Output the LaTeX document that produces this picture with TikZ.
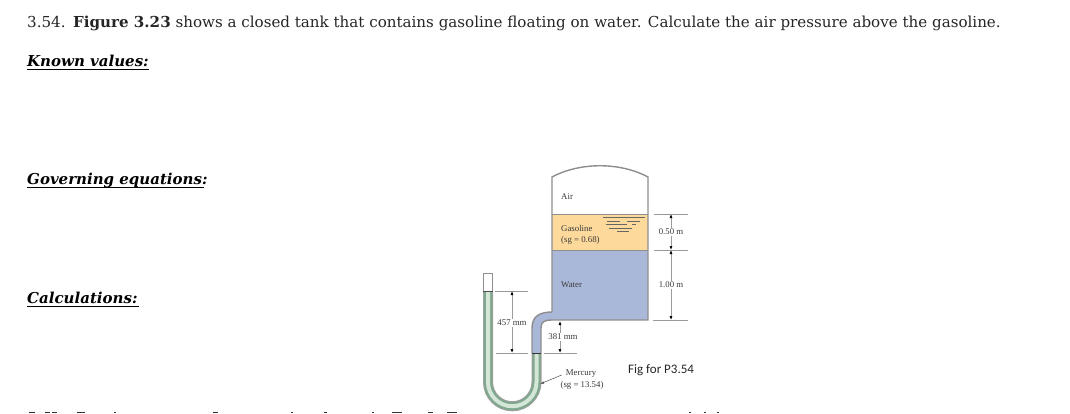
\documentclass[tikz,border=0pt]{standalone}
\usepackage{fontspec}
\setmainfont{DejaVu Serif}
\newfontfamily\figfont{Liberation Serif}
\newfontfamily\capfont{Carlito}
\usetikzlibrary{arrows.meta}
\definecolor{gasc}{HTML}{FDD99B}
\definecolor{watc}{HTML}{A9B8D8}
\definecolor{hgc}{HTML}{D3E6D8}
\definecolor{hge}{HTML}{7FA88C}
\definecolor{wallc}{HTML}{8E8E8E}
\definecolor{dimc}{HTML}{9A9A9A}
\definecolor{labc}{HTML}{3A3A3A}
\tikzset{
 x=1pt,y=-1pt,
 body/.style={anchor=base west,inner sep=0pt,font=\fontsize{15.1}{18}\selectfont,text=black!85},
 head/.style={anchor=base west,inner sep=0pt,font=\fontsize{15}{18}\selectfont\bfseries\itshape,text=black},
 ulrule/.style={line width=1pt,black},
 figlab/.style={inner sep=0pt,font=\figfont\fontsize{8.8}{10}\selectfont,text=labc},
 dimlab/.style={figlab,fill=white,inner sep=1pt},
 extline/.style={draw=dimc,line width=0.7pt},
 dimline/.style={draw=dimc,line width=0.7pt,{Latex[length=4pt,width=3pt,black]}-{Latex[length=4pt,width=3pt,black]}},
 wall/.style={draw=wallc,line width=1.4pt},
 surf/.style={draw=black!60,line width=0.5pt},
 glyphtop/.style={draw=black!80,line width=1.6pt},
}
\begin{document}
\begin{tikzpicture}
\useasboundingbox (0,0) rectangle (1070,413);
\fill[white] (0,0) rectangle (1070,413);
\clip (0,0) rectangle (1070,413);
% text
\node[body] (prob) at (27,27) {3.54.\hspace{0.5em}\textbf{Figure 3.23} shows a closed tank that contains gasoline floating on water. Calculate the air pressure above the gasoline.};
\node[head] (known) at (27,66) {Known values:};
\node[head] (gov) at (27,184.5) {Governing equations:};
\node[head] (calc) at (27,303.5) {Calculations:};
\draw[ulrule] (known.base west)++(0,3) -- ++(122,0);
\draw[ulrule] (gov.base west)++(0,3) -- ++(177,0);
\draw[ulrule] (calc.base west)++(0,3) -- ++(112,0);
% tops of the cut-off line at the lower edge
\draw[glyphtop] (29,412.6) -- (35,412.6) (45,412.6) -- (50,412.6) (52,412.6) -- (57,412.6) (77,412.6) -- (85,412.6)
 (114,412.6) -- (116,412.6) (213,412.6) -- (218,412.6) (291,412.6) -- (293,412.6) (324,412.6) -- (327,412.6)
 (372,412.6) -- (374,412.6) (392,412.6) -- (402,412.6) (428,412.6) -- (433,412.6) (447,412.6) -- (457,412.6)
 (689,412.6) -- (691,412.6) (704,412.6) -- (706,412.6) (717,412.6) -- (719,412.6);
% fluids
\fill[gasc] (552,214) rectangle (648,250);
\fill[watc] (552,250) rectangle (648,320);
\fill[watc] (552,312) .. controls (540,312) and (532,316) .. (532,328) -- (532,353) -- (541,353) -- (541,328) .. controls (541,322) and (544,320) .. (552,320) -- cycle;
% U tube
\draw[line width=10pt,draw=wallc!85] (488,291) -- (488,382) arc[start angle=180,end angle=0,radius=24.25] -- (536.5,353);
\draw[line width=8pt,draw=hge] (488,291) -- (488,382) arc[start angle=180,end angle=0,radius=24.25] -- (536.5,353);
\draw[line width=4pt,draw=hgc] (488,291) -- (488,382) arc[start angle=180,end angle=0,radius=24.25] -- (536.5,353);
% tube top
\fill[white] (484,274) rectangle (492,290.5);
\draw[draw=wallc,line width=1pt] (483.5,291) -- (483.5,273) -- (492.5,273) -- (492.5,291);
\draw[draw=black!70,line width=1pt] (483,291) -- (493,291);
\draw[draw=black!80,line width=1pt] (532,353) -- (541,353);
% tank walls
\draw[wall] (552,312) -- (552,177) .. controls (580,162) and (620,162) .. (648,177) -- (648,320) -- (552,320) .. controls (544,320) and (541,322) .. (541,328) -- (541,353);
\draw[wall] (552,312) .. controls (540,312) and (532,316) .. (532,328) -- (532,353);
\draw[draw=wallc,line width=0.8pt] (552,214) -- (648,214);
\draw[draw=wallc,line width=0.5pt] (552,250) -- (648,250);
% surface marks
\draw[surf] (603,217.3) -- (645,217.3);
\draw[surf] (607,221) -- (620,221) (627,221) -- (640,221);
\draw[surf] (606,224.5) -- (627,224.5) (632,224.5) -- (636,224.5);
\draw[surf] (609,228) -- (632,228);
\draw[surf] (617,231) -- (629,231);
% dimension lines
\coordinate (d1t) at (671,214); \coordinate (d1b) at (671,250); \coordinate (d2b) at (671,320);
\draw[extline] (654,214) -- (688,214);
\draw[extline] (654,250.5) -- (688,250.5);
\draw[extline] (653,320) -- (688,320);
\draw[dimline] (d1t) -- (d1b);
\draw[dimline] (d1b) -- (d2b);
\node[dimlab] (l050) at (671,232) {0.50 m};
\node[dimlab] (l100) at (671,285) {1.00 m};
\coordinate (d3t) at (512,291); \coordinate (d3b) at (512,353);
\draw[extline] (495,291) -- (528,291);
\draw[extline] (496,353) -- (528,353);
\draw[dimline] (d3t) -- (d3b);
\node[dimlab] (l457) at (512,323) {457 mm};
\coordinate (d4t) at (560,321); \coordinate (d4b) at (560,353);
\draw[extline] (544,353) -- (577,353);
\draw[dimline] (d4t) -- (d4b);
\node[dimlab] (l381) at (563,337) {381 mm};
% labels
\node[figlab,anchor=base west] (air) at (561,199) {Air};
\node[figlab,anchor=base west] (gas) at (561,231) {Gasoline};
\node[figlab,anchor=base west] (gsg) at (561,242.5) {(sg = 0.68)};
\node[figlab,anchor=base west] (wat) at (561,287) {Water};
\node[figlab] (mer) at (581,374) {Mercury};
\node[figlab] (msg) at (582,385.5) {(sg = 13.54)};
\coordinate (mtip) at (540,384);
\draw[draw=black!70,line width=0.5pt,-{Latex[length=4pt,width=2.5pt]}] (mer.west) ++(-4,1) -- (mtip);
\node[inner sep=0pt,anchor=base west,font=\capfont\fontsize{13}{15}\selectfont,text=black!85] (cap) at (628,373.5) {Fig for P3.54};
\end{tikzpicture}
\end{document}
